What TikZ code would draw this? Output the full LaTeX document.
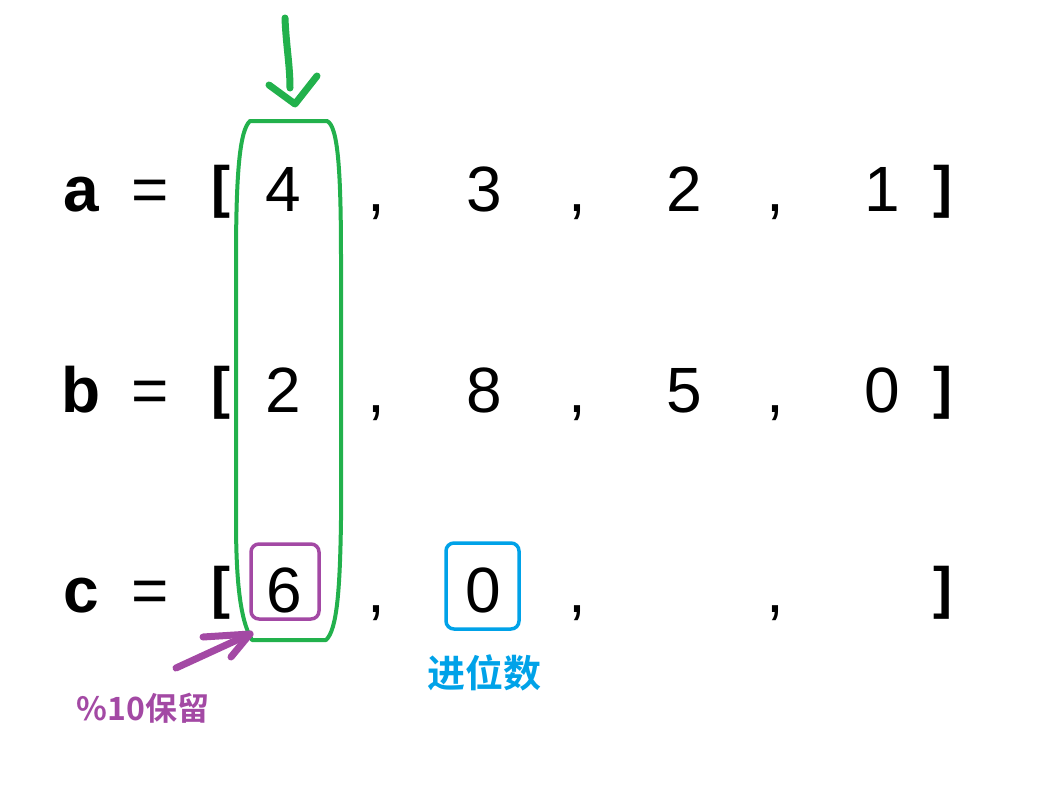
\documentclass[tikz,border=0pt]{standalone}
\usepackage{fontspec}
\setmainfont{Liberation Sans}
\newfontfamily\cjk{Noto Sans CJK SC}[BoldFont={* Bold}]
\definecolor{pgreen}{RGB}{34,177,76}
\definecolor{ppurple}{RGB}{163,73,164}
\definecolor{pblue}{RGB}{0,162,232}
\begin{document}
\begin{tikzpicture}[x=1pt,y=-1pt,
  tx/.style={anchor=base,inner sep=0pt,font=\fontsize{64}{70}\selectfont},
  lt/.style={tx,font=\bfseries\fontsize{64}{70}\selectfont},
  br/.style={anchor=base,inner sep=0pt,font=\bfseries\fontsize{57}{64}\selectfont},
  hand/.style={line width=7pt,line cap=round,line join=round},
  boxline/.style={line width=3.5pt,rounded corners=8pt}]
\useasboundingbox (0,0) rectangle (1038,784);
% row a
\node[lt] (la) at (81,211) {a};
\node[tx] (ea) at (150,211) {=};
\node[br] (oa) at (221,206) {[};
\node[tx] (a0) at (283,211) {4};
\node[tx] (ca1) at (376,211) {,};
\node[tx] (a1) at (484,211) {3};
\node[tx] (ca2) at (577,211) {,};
\node[tx] (a2) at (684,211) {2};
\node[tx] (ca3) at (775,211) {,};
\node[tx] (a3) at (882,211) {1};
\node[br] (ra) at (943,206) {]};
% row b
\node[lt] (lb) at (81,412) {b};
\node[tx] (eb) at (150,412) {=};
\node[br] (ob) at (221,407) {[};
\node[tx] (b0) at (283,412) {2};
\node[tx] (cb1) at (376,412) {,};
\node[tx] (b1) at (484,412) {8};
\node[tx] (cb2) at (577,412) {,};
\node[tx] (b2) at (684,412) {5};
\node[tx] (cb3) at (775,412) {,};
\node[tx] (b3) at (882,412) {0};
\node[br] (rb) at (943,407) {]};
% row c
\node[lt] (lc) at (81,612) {c};
\node[tx] (ec) at (150,612) {=};
\node[br] (oc) at (221,607) {[};
\node[tx] (c0) at (284,612) {6};
\node[tx] (cc1) at (376,612) {,};
\node[tx] (c1) at (483,612) {0};
\node[tx] (cc2) at (577,612) {,};
\node[tx] (cc3) at (775,612) {,};
\node[br] (rc) at (943,607) {]};
% green column loop
\draw[pgreen,line width=4pt,line join=round]
  (250,121) -- (327,121)
  .. controls (338,126) and (341,170) .. (341,260)
  -- (341,520)
  .. controls (340,590) and (337,630) .. (326,640)
  -- (252,640)
  .. controls (240,620) and (236,580) .. (236,520)
  -- (236,260)
  .. controls (236,170) and (240,130) .. (250,121) -- cycle;
% green arrow
\coordinate (gs) at (285,18);
\coordinate (gt) at (295,104);
\draw[pgreen,hand] (gs) .. controls (286,45) and (290,65) .. (290,88);
\draw[pgreen,hand] (269,85) -- (gt) -- (317,76);
% boxes
\node[draw=ppurple,boxline,minimum width=68pt,minimum height=75pt] (pbox) at (285,581.5) {};
\node[draw=pblue,boxline,minimum width=73pt,minimum height=86pt] (bbox) at (482.5,586) {};
% purple arrow
\coordinate (ps) at (176,668);
\coordinate (pt) at (250,634);
\draw[ppurple,hand] (ps) -- (pt);
\draw[ppurple,hand] (203,637) -- (pt) -- (231,657);
% labels
\node[anchor=center,inner sep=0pt,text=ppurple,font=\cjk\bfseries\fontsize{32}{35}\selectfont] (keep) at (143,708) {\%10保留};
\node[anchor=center,inner sep=0pt,text=pblue,font=\cjk\bfseries\fontsize{38}{42}\selectfont] (carry) at (484,673) {进位数};
\end{tikzpicture}
\end{document}
